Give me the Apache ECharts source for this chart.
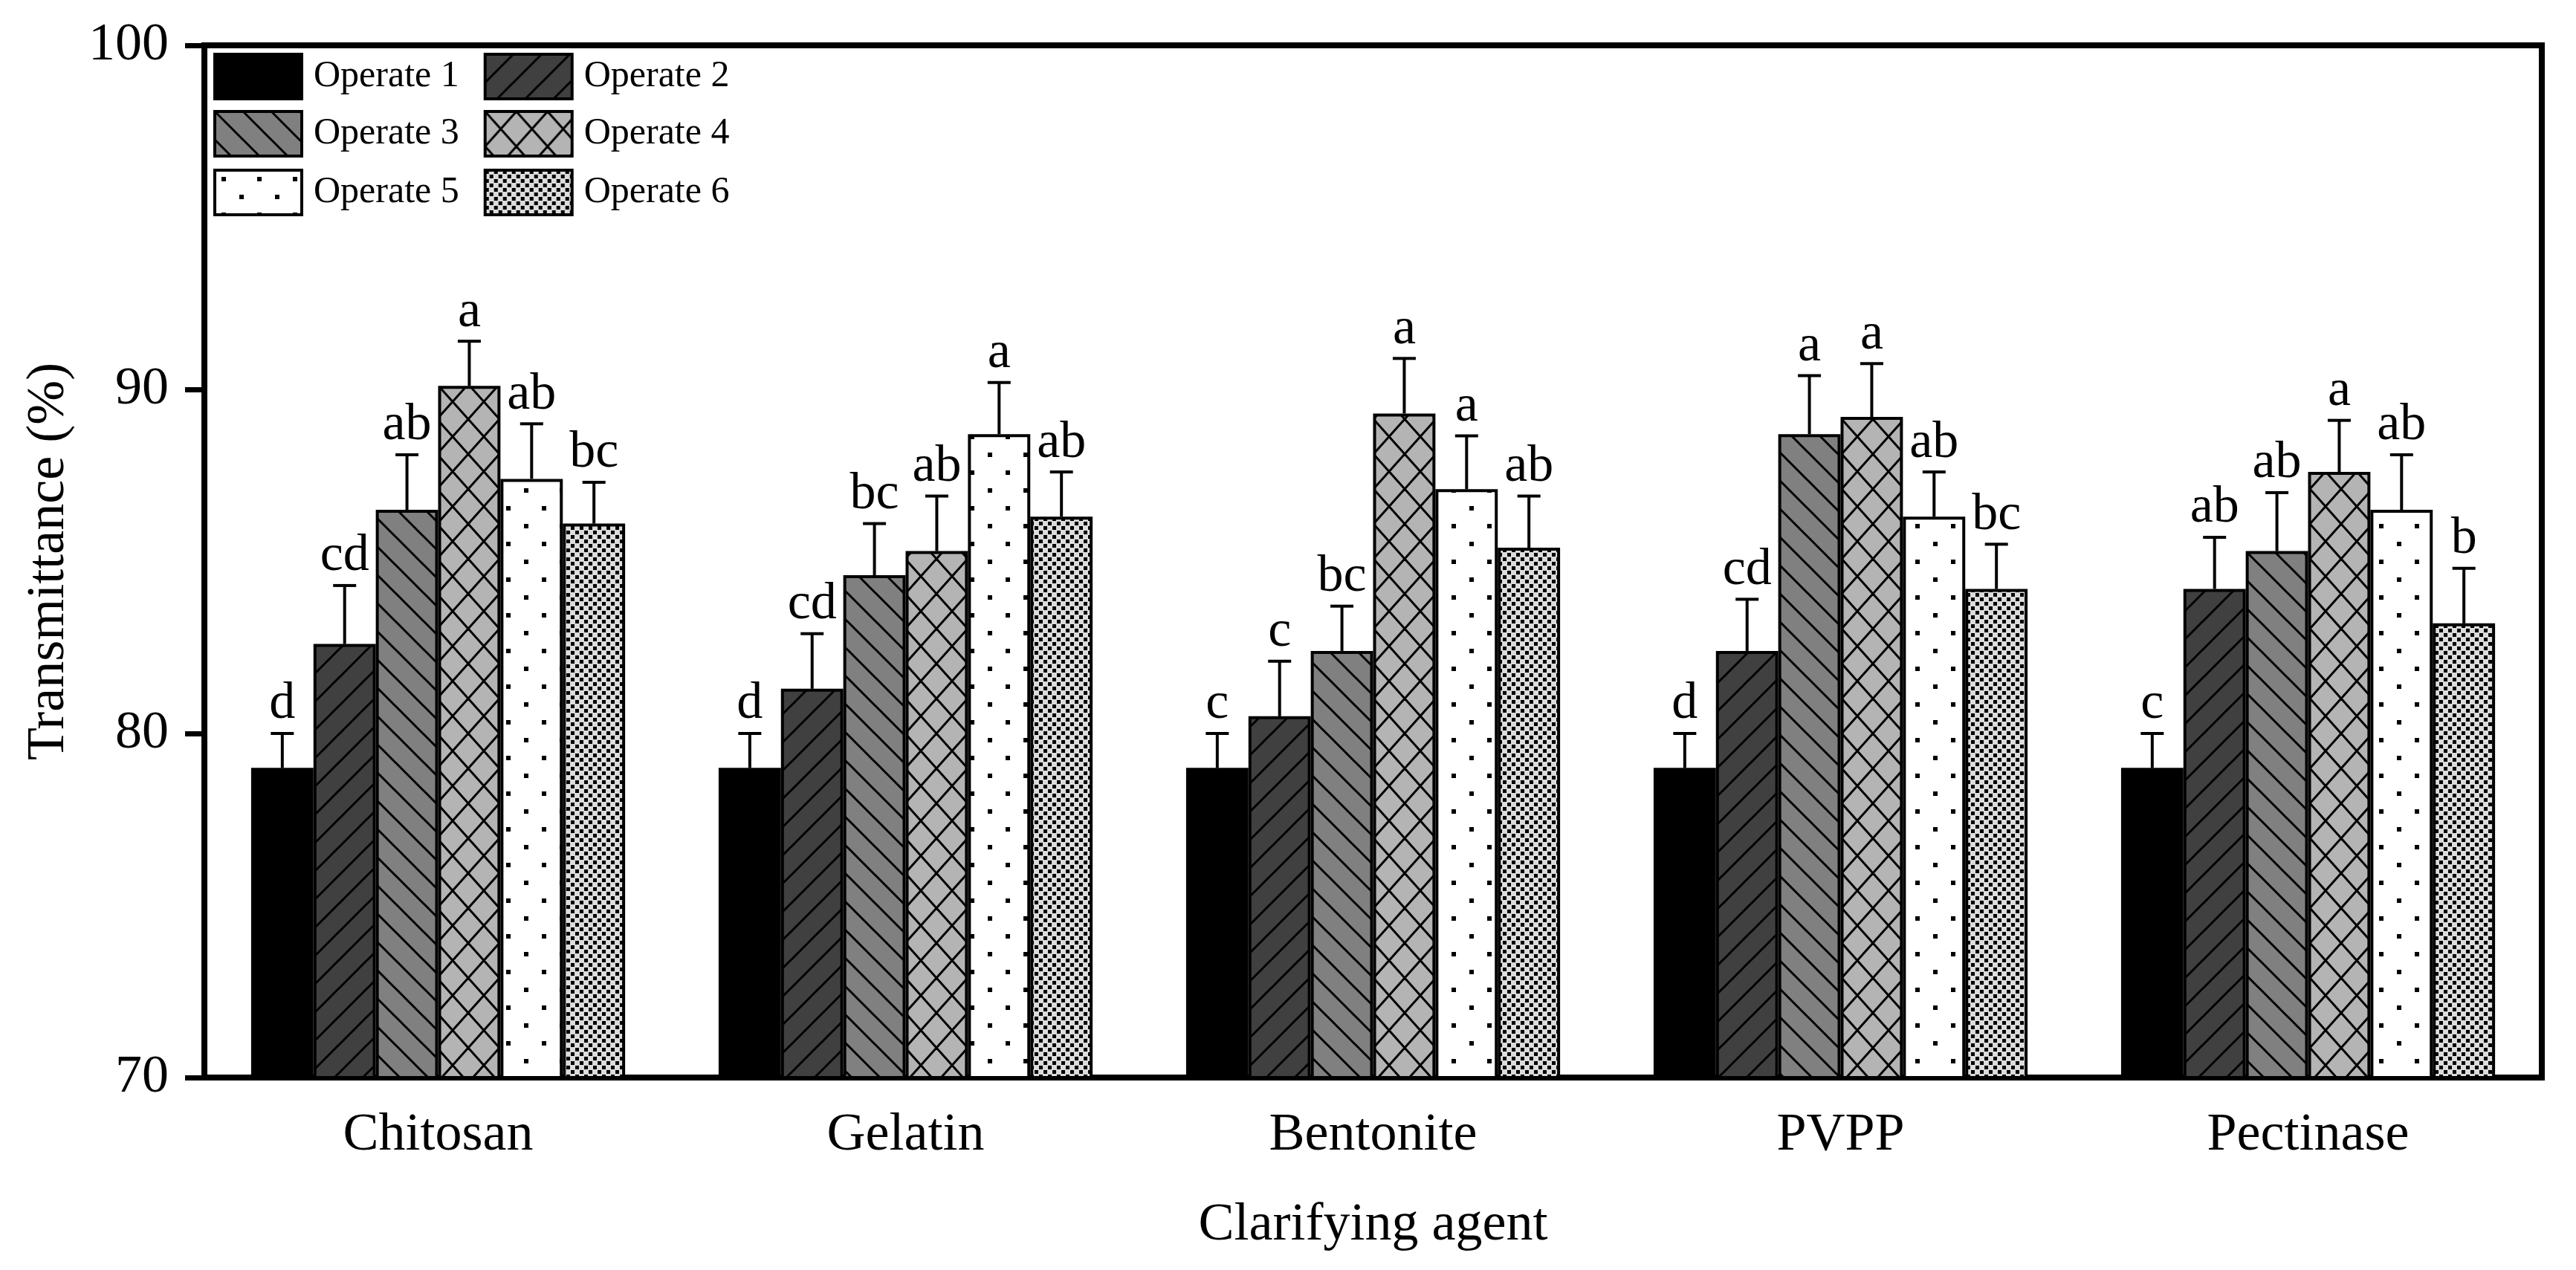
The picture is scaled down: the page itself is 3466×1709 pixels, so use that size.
<!DOCTYPE html>
<html>
<head>
<meta charset="utf-8">
<script src="https://cdn.jsdelivr.net/npm/echarts@6.0.0/dist/echarts.min.js"></script>
<style>
  html, body { margin: 0; padding: 0; background: #fff; }
  #chart { width: 3466px; height: 1709px; }
</style>
</head>
<body>
<div id="chart"></div>
<script>
  //------------------- Data -------------------//
  const categories = ['Chitosan', 'Gelatin', 'Bentonite', 'PVPP', 'Pectinase']
  const seriesNames = ['Operate 1', 'Operate 2', 'Operate 3', 'Operate 4', 'Operate 5', 'Operate 6']

  const op1 = [79.0, 79.0, 79.0, 79.0, 79.0]
  const op2 = [82.6, 81.3, 80.5, 82.4, 84.2]
  const op3 = [86.5, 84.6, 82.4, 88.7, 85.3]
  const op4 = [90.1, 85.3, 89.3, 89.2, 87.6]
  const op5 = [87.4, 88.7, 87.1, 86.3, 86.5]
  const op6 = [86.1, 86.3, 85.4, 84.2, 83.2]

  const err1 = [1.0, 1.0, 1.0, 1.0, 1.0]
  const err2 = [1.7, 1.6, 1.6, 1.5, 1.5]
  const err3 = [1.6, 1.5, 1.3, 1.7, 1.7]
  const err4 = [1.3, 1.6, 1.6, 1.55, 1.5]
  const err5 = [1.6, 1.5, 1.55, 1.3, 1.6]
  const err6 = [1.2, 1.3, 1.5, 1.3, 1.6]

  const let1 = ['d', 'd', 'c', 'd', 'c']
  const let2 = ['cd', 'cd', 'c', 'cd', 'ab']
  const let3 = ['ab', 'bc', 'bc', 'a', 'ab']
  const let4 = ['a', 'ab', 'a', 'a', 'a']
  const let5 = ['ab', 'a', 'a', 'ab', 'ab']
  const let6 = ['bc', 'ab', 'ab', 'bc', 'b']

  const yTicks = { min: 70, max: 100, interval: 10 }

  const values = [op1, op2, op3, op4, op5, op6]
  const errors = [err1, err2, err3, err4, err5, err6]
  const letters = [let1, let2, let3, let4, let5, let6]

  //------------------- Fill patterns -------------------//
  const FONT = '"Liberation Serif", "Times New Roman", serif'

  const makeTile = (w, h, bg, draw) => {
    const c = document.createElement('canvas')
    c.width = w
    c.height = h
    const ctx = c.getContext('2d')
    ctx.fillStyle = bg
    ctx.fillRect(0, 0, w, h)
    ctx.strokeStyle = '#000'
    ctx.fillStyle = '#000'
    draw(ctx, w, h)
    return {image: c, repeat: 'repeat'}
  }

  const line = (ctx, x1, y1, x2, y2) => {
    ctx.beginPath()
    ctx.moveTo(x1, y1)
    ctx.lineTo(x2, y2)
    ctx.stroke()
  }

  const fills = [
    '#000000',
    // forward hatch
    makeTile(38, 38, '#404040', (ctx, w, h) => {
      ctx.lineWidth = 3
      line(ctx, -w, 2 * h, 2 * w, -h)
      line(ctx, -w, h, w, -h)
      line(ctx, 0, 2 * h, 2 * w, 0)
    }),
    // back hatch
    makeTile(38, 38, '#808080', (ctx, w, h) => {
      ctx.lineWidth = 3
      line(ctx, -w, -h, 2 * w, 2 * h)
      line(ctx, 0, -h, 2 * w, h)
      line(ctx, -w, 0, w, 2 * h)
    }),
    // cross hatch
    makeTile(42, 47, '#b4b4b4', (ctx, w, h) => {
      ctx.lineWidth = 3
      line(ctx, -w, -h, 2 * w, 2 * h)
      line(ctx, -w, 2 * h, 2 * w, -h)
    }),
    // sparse dots
    makeTile(48, 48, '#ffffff', (ctx) => {
      ctx.fillRect(9, 9, 6, 6)
      ctx.fillRect(33, 33, 6, 6)
    }),
    // checker
    makeTile(12, 12, '#dcdcdc', (ctx) => {
      ctx.fillRect(0, 0, 5, 5)
      ctx.fillRect(6, 6, 5, 5)
    }),
  ]

  //------------------- Series -------------------//
  const barSeries = seriesNames.map((name, i) => ({
    name,
    type: 'bar',
    barGap: '0%',
    barCategoryGap: '20%',
    data: values[i],
    itemStyle: {color: fills[i], borderColor: '#000', borderWidth: 4},
    emphasis: {disabled: true},
    z: 2,
  }))

  const errorRender = (idx) => (params, api) => {
    const cat = api.value(0)
    const v = api.value(1)
    const e = api.value(2)
    const base = api.coord([cat, v])
    const top = api.coord([cat, v + e])
    const bw = api.size([1, 0])[0] * 0.8 / 6
    const x = base[0] + (idx - 2.5) * bw
    const half = 15.5
    return {
      type: 'group',
      children: [
        {type: 'line', shape: {x1: x, y1: base[1], x2: x, y2: top[1]}, style: {stroke: '#000', lineWidth: 4}},
        {type: 'line', shape: {x1: x - half, y1: top[1], x2: x + half, y2: top[1]}, style: {stroke: '#000', lineWidth: 4}},
        {
          type: 'text',
          x,
          y: top[1] - 4,
          style: {
            text: letters[idx][params.dataIndex],
            fill: '#000',
            fontSize: 70,
            fontFamily: FONT,
            align: 'center',
            verticalAlign: 'bottom',
          },
        },
      ],
    }
  }

  const errorSeries = seriesNames.map((name, i) => ({
    name: `${name} err`,
    type: 'custom',
    renderItem: errorRender(i),
    data: categories.map((c, k) => [k, values[i][k], errors[i][k]]),
    z: 5,
    silent: true,
  }))

  const legendBase = {
    orient: 'horizontal',
    left: 287,
    padding: 0,
    itemWidth: 117,
    itemHeight: 60,
    itemGap: 33,
    icon: 'rect',
    selectedMode: false,
    textStyle: {fontSize: 50, fontFamily: FONT, color: '#000', padding: [0, 0, 0, 11]},
    itemStyle: {borderColor: '#000', borderWidth: 4},
  }

  const option = {
    animation: false,
    backgroundColor: '#fff',
    grid: {
      left: 275,
      right: 46,
      top: 61,
      bottom: 259,
      show: true,
      borderColor: '#000',
      borderWidth: 8,
    },
    legend: [
      {...legendBase, top: 71, data: seriesNames.slice(0, 2)},
      {...legendBase, top: 148, data: seriesNames.slice(2, 4)},
      {...legendBase, top: 227, data: seriesNames.slice(4, 6)},
    ],
    xAxis: {
      type: 'category',
      data: categories,
      name: 'Clarifying agent',
      nameLocation: 'middle',
      nameGap: 163,
      nameTextStyle: {fontSize: 72, fontFamily: FONT, color: '#000'},
      axisLine: {lineStyle: {color: '#000', width: 8}},
      axisTick: {alignWithLabel: true, length: 28, lineStyle: {color: '#000', width: 6}},
      axisLabel: {fontSize: 72, fontFamily: FONT, color: '#000', margin: 42},
    },
    yAxis: {
      type: 'value',
      min: yTicks.min,
      max: yTicks.max,
      interval: yTicks.interval,
      name: 'Transmittance (%)',
      nameLocation: 'middle',
      nameGap: 173,
      nameTextStyle: {fontSize: 72, fontFamily: FONT, color: '#000'},
      axisLine: {show: true, lineStyle: {color: '#000', width: 8}},
      axisTick: {show: true, length: 26, lineStyle: {color: '#000', width: 7}},
      axisLabel: {fontSize: 72, fontFamily: FONT, color: '#000', margin: 48},
      splitLine: {show: false},
    },
    series: [...barSeries, ...errorSeries],
  }

  const chart = echarts.init(document.getElementById('chart'), null, {renderer: 'canvas'})
  chart.setOption(option)
</script>
</body>
</html>
